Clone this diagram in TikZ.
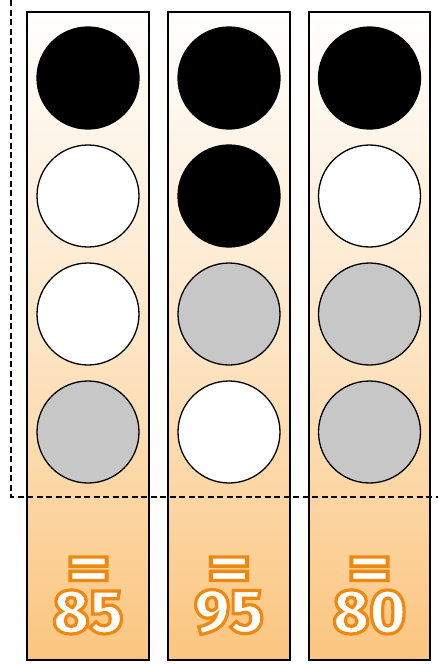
\documentclass[tikz,border=0pt]{standalone}
\usepackage{fontspec}
\newfontfamily\numfont{Fira Sans ExtraBold}
\definecolor{orng}{RGB}{240,134,16}
\definecolor{boxbot}{RGB}{251,198,128}
\definecolor{dotgray}{RGB}{198,199,198}
\newcommand\outltext[1]{\special{pdf:literal direct 2 Tr 3.2 w 0.94 0.53 0.06 RG}#1\special{pdf:literal direct 0 Tr 0 G}}
\tikzset{
  colbox/.style={draw=black, line width=1.7pt, top color=white, bottom color=boxbot, middle color=boxbot!45!white},
  dot/.style={circle, draw=black, line width=1.3pt, minimum size=102pt, inner sep=0pt},
  sep/.style={dash pattern=on 6pt off 3.5pt, line width=1.6pt},
  eqsign/.style={font=\numfont\fontsize{64}{64}\selectfont, text=white, inner sep=0pt, xscale=1.3, yscale=1.05},
  num/.style={font=\numfont\fontsize{62}{62}\selectfont, text=white, inner sep=0pt}
}
\begin{document}
\begin{tikzpicture}[x=1pt,y=-1pt]
\useasboundingbox (0,0) rectangle (438,665);
% boxes
\foreach \l/\r in {27/149,168/290,309/430}{
  \path[colbox] (\l,12) rectangle (\r,660);
}
% dashed separators
\coordinate (dtop) at (11,0);
\coordinate (dcorner) at (11,497);
\coordinate (dright) at (438,497);
\draw[sep] (dtop) -- (dcorner) -- (dright);
% circles
\node[dot, fill=black] (c11) at (88,78) {};
\node[dot, fill=white] (c12) at (88,196) {};
\node[dot, fill=white] (c13) at (88,314) {};
\node[dot, fill=dotgray] (c14) at (88,432) {};
\node[dot, fill=black] (c21) at (229,78) {};
\node[dot, fill=black] (c22) at (229,196) {};
\node[dot, fill=dotgray] (c23) at (229,314) {};
\node[dot, fill=white] (c24) at (229,432) {};
\node[dot, fill=black] (c31) at (369.5,78) {};
\node[dot, fill=white] (c32) at (369.5,196) {};
\node[dot, fill=dotgray] (c33) at (369.5,314) {};
\node[dot, fill=dotgray] (c34) at (369.5,432) {};
% equals and numbers
\node[eqsign] (e1) at (88.5,574) {\outltext{=}};
\node[eqsign] (e2) at (229,574) {\outltext{=}};
\node[eqsign] (e3) at (369.5,574) {\outltext{=}};
\node[num] (n1) at (88,612) {\outltext{85}};
\node[num] (n2) at (229,612) {\outltext{95}};
\node[num] (n3) at (369.5,612) {\outltext{80}};
\end{tikzpicture}
\end{document}
